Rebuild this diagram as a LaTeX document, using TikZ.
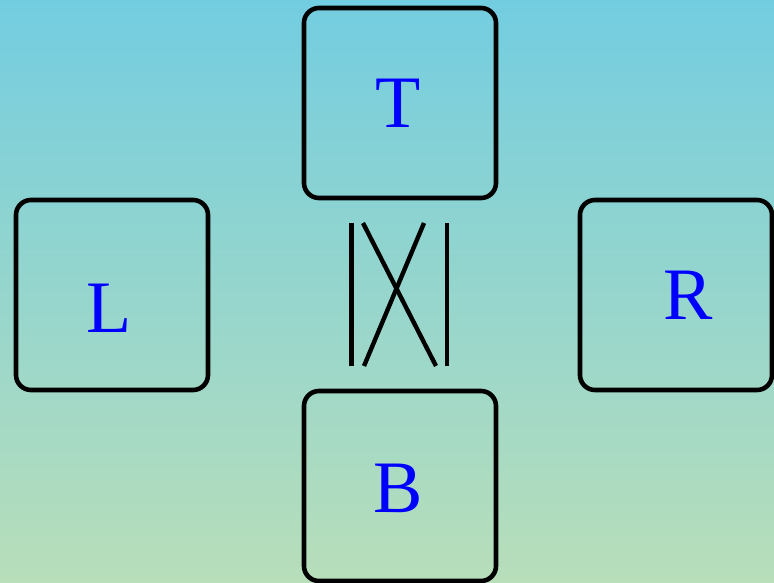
\documentclass[tikz,border=0pt]{standalone}
\usepackage{fontspec}
\setmainfont{Liberation Serif}
\begin{document}
\begin{tikzpicture}[x=1pt,y=-1pt,
  box/.style={draw=black,line width=4.6pt,rounded corners=15pt,minimum width=192pt,minimum height=190pt,inner sep=0pt,anchor=center},
  lbl/.style={text=blue,font=\fontsize{74}{74}\selectfont,anchor=base,inner sep=0pt},
  bar/.style={draw=black,line width=4.4pt}]
\shade[top color={rgb,255:red,115;green,205;blue,224},bottom color={rgb,255:red,184;green,222;blue,186}] (0,0) rectangle (774,583);
\useasboundingbox (0,0) rectangle (774,583);
\node[box] (T) at (400,103) {};
\node[box] (L) at (112,295) {};
\node[box] (R) at (676,295) {};
\node[box] (B) at (400,486) {};
\node[lbl] (tT) at (398,128) {T};
\node[lbl] (tL) at (109.5,332) {L};
\node[lbl] (tR) at (688.5,319) {R};
\node[lbl] (tB) at (398,512) {B};
\coordinate (v1a) at (351.5,223);
\coordinate (v1b) at (351.5,366);
\coordinate (v2a) at (447,223);
\coordinate (v2b) at (447,366);
\coordinate (d1a) at (363,223);
\coordinate (d1b) at (436,366);
\coordinate (d2a) at (424,223);
\coordinate (d2b) at (364,366);
\draw[bar] (v1a) -- (v1b);
\draw[bar] (v2a) -- (v2b);
\draw[bar] (d1a) -- (d1b);
\draw[bar] (d2a) -- (d2b);
\end{tikzpicture}
\end{document}
